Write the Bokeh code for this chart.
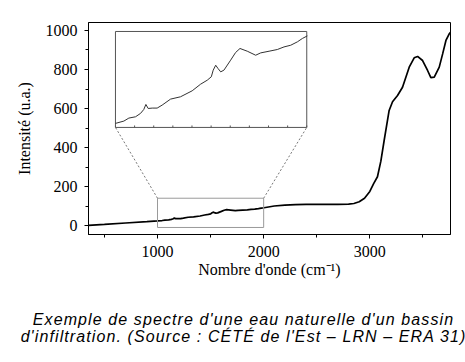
from bokeh.plotting import figure
from bokeh.models import Range1d, SingleIntervalTicker, Div
from bokeh.layouts import column
from bokeh.embed import file_html
from bokeh.resources import INLINE

# ---- data ----
wavenumber = [350, 500, 700, 900,
              1000, 1044, 1070, 1105, 1131, 1148, 1159, 1171, 1192, 1218, 1244, 1288, 1340,
              1401, 1445, 1480, 1501, 1511, 1524, 1536, 1550, 1567, 1602, 1628, 1651, 1689,
              1733, 1759, 1803, 1846, 1881, 1916, 1951, 1977, 2003,
              2100, 2200, 2300, 2400, 2500, 2600, 2700, 2800, 2850, 2900, 2950, 3000,
              3036, 3072, 3104, 3135, 3182, 3214, 3261, 3308, 3371, 3418, 3450, 3497,
              3544, 3575, 3607, 3654, 3686, 3717, 3748, 3760]
intensity = [1, 6, 13, 20,
             23.8, 25.6, 27.9, 28.9, 31.5, 34.5, 38.4, 35.3, 35.6, 35.6, 37.9, 42.5, 44.3,
             48.9, 54.0, 57.1, 59.7, 64.8, 68.6, 66.1, 63.5, 64.8, 72.5, 78.4, 81.5, 79.4,
             76.3, 78.1, 79.4, 80.7, 82.7, 84.0, 86.6, 89.2, 91.2,
             100, 105, 107, 108, 108, 109, 108, 110, 113, 122, 140, 175,
             215, 250, 330, 436, 590, 635, 667, 709, 812, 860, 867, 846,
             795, 758, 761, 812, 880, 949, 983, 990]

zoom_window = [1000, 2000]          # region enlarged in the inset
zoom_y = [20.7, 94.6]               # inset intensity range
inset_ticks = list(range(1000, 2001, 100))

caption_lines = ["Exemple de spectre d'une eau naturelle d'un bassin",
                 "d'infiltration. (Source : CÉTÉ de l'Est – LRN – ERA 31)"]

# ---- layout constants ----
X0, X1 = 350, 3760
Y0, Y1 = -46, 1041
inset_box = dict(left=604, right=2406, bottom=503, top=995)   # inset place in main units
marker_box = dict(left=1000, right=2000, bottom=-10, top=140)

p = figure(width=465, height=300, output_backend="svg", toolbar_location=None,
           x_range=Range1d(X0, X1), y_range=Range1d(Y0, Y1),
           min_border_left=88, min_border_top=22, min_border_right=15,
           min_border_bottom=66)
p.grid.visible = False
p.outline_line_color = "black"
p.outline_line_width = 1

serif = "Liberation Serif"
p.xaxis.ticker = SingleIntervalTicker(interval=1000, num_minor_ticks=2)
p.yaxis.ticker = SingleIntervalTicker(interval=200, num_minor_ticks=2)
for ax in (p.xaxis, p.yaxis):
    ax.major_tick_in = 0
    ax.minor_tick_in = 0
    ax.major_tick_out = 4
    ax.minor_tick_out = 3
    ax.major_label_text_font = serif
    ax.major_label_text_font_size = "16px"
    ax.major_label_text_color = "black"
    ax.axis_label_text_font = serif
    ax.axis_label_text_font_size = "16px"
    ax.axis_label_text_font_style = "normal"
    ax.axis_label_text_color = "black"
    ax.axis_line_color = "black"
    ax.major_tick_line_color = "black"
    ax.minor_tick_line_color = "black"
    ax.major_label_standoff = 7
p.xaxis.axis_label = "Nombre d'onde (cm⁻¹)"
p.yaxis.axis_label = "Intensité (u.a.)"
p.xaxis.axis_label_standoff = 1
p.yaxis.axis_label_standoff = 10

# main spectrum
p.line(wavenumber, intensity, line_color="black", line_width=1.7)

# marker rectangle and connectors
p.quad(left=[marker_box["left"]], right=[marker_box["right"]],
       bottom=[marker_box["bottom"]], top=[marker_box["top"]],
       fill_color=None, line_color="#9a9a9a", line_width=1)
p.segment(x0=[marker_box["left"], marker_box["right"]],
          y0=[marker_box["top"], marker_box["top"]],
          x1=[inset_box["left"], inset_box["right"]],
          y1=[inset_box["bottom"], inset_box["bottom"]],
          line_color="#777777", line_dash="2 2", line_width=1)

# inset via extra ranges
sx = (zoom_window[1] - zoom_window[0]) / (inset_box["right"] - inset_box["left"])
sy = (zoom_y[1] - zoom_y[0]) / (inset_box["top"] - inset_box["bottom"])
p.extra_x_ranges = {"ix": Range1d(zoom_window[0] - (inset_box["left"] - X0) * sx,
                                  zoom_window[0] + (X1 - inset_box["left"]) * sx)}
p.extra_y_ranges = {"iy": Range1d(zoom_y[0] - (inset_box["bottom"] - Y0) * sy,
                                  zoom_y[0] + (Y1 - inset_box["bottom"]) * sy)}
p.quad(left=[zoom_window[0]], right=[zoom_window[1]], bottom=[zoom_y[0]], top=[zoom_y[1]],
       fill_color="white", line_color="#555555", line_width=1,
       x_range_name="ix", y_range_name="iy")
iw = [w for w in wavenumber if zoom_window[0] <= w <= zoom_window[1] + 5]
ii = [v for w, v in zip(wavenumber, intensity) if zoom_window[0] <= w <= zoom_window[1] + 5]
p.line(iw, ii, line_color="#333333", line_width=1, x_range_name="ix", y_range_name="iy")
tick_h = 1.5
p.segment(x0=inset_ticks, x1=inset_ticks, y0=[zoom_y[0]] * len(inset_ticks),
          y1=[zoom_y[0] + tick_h] * len(inset_ticks), line_color="#555555", line_width=1,
          x_range_name="ix", y_range_name="iy")

# caption
cap = Div(text="<br>".join(caption_lines), width=465,
          styles={"font-family": "'Liberation Sans', Arial, sans-serif",
                  "font-style": "italic", "font-size": "16px", "line-height": "17px",
                  "letter-spacing": "1.1px", "text-align": "center", "color": "black",
                  "padding-left": "12px", "padding-top": "6px",
                  "white-space": "nowrap", "width": "465px"})

layout = column(p, cap, spacing=0)
open("out.html", "w").write(file_html(layout, INLINE))
